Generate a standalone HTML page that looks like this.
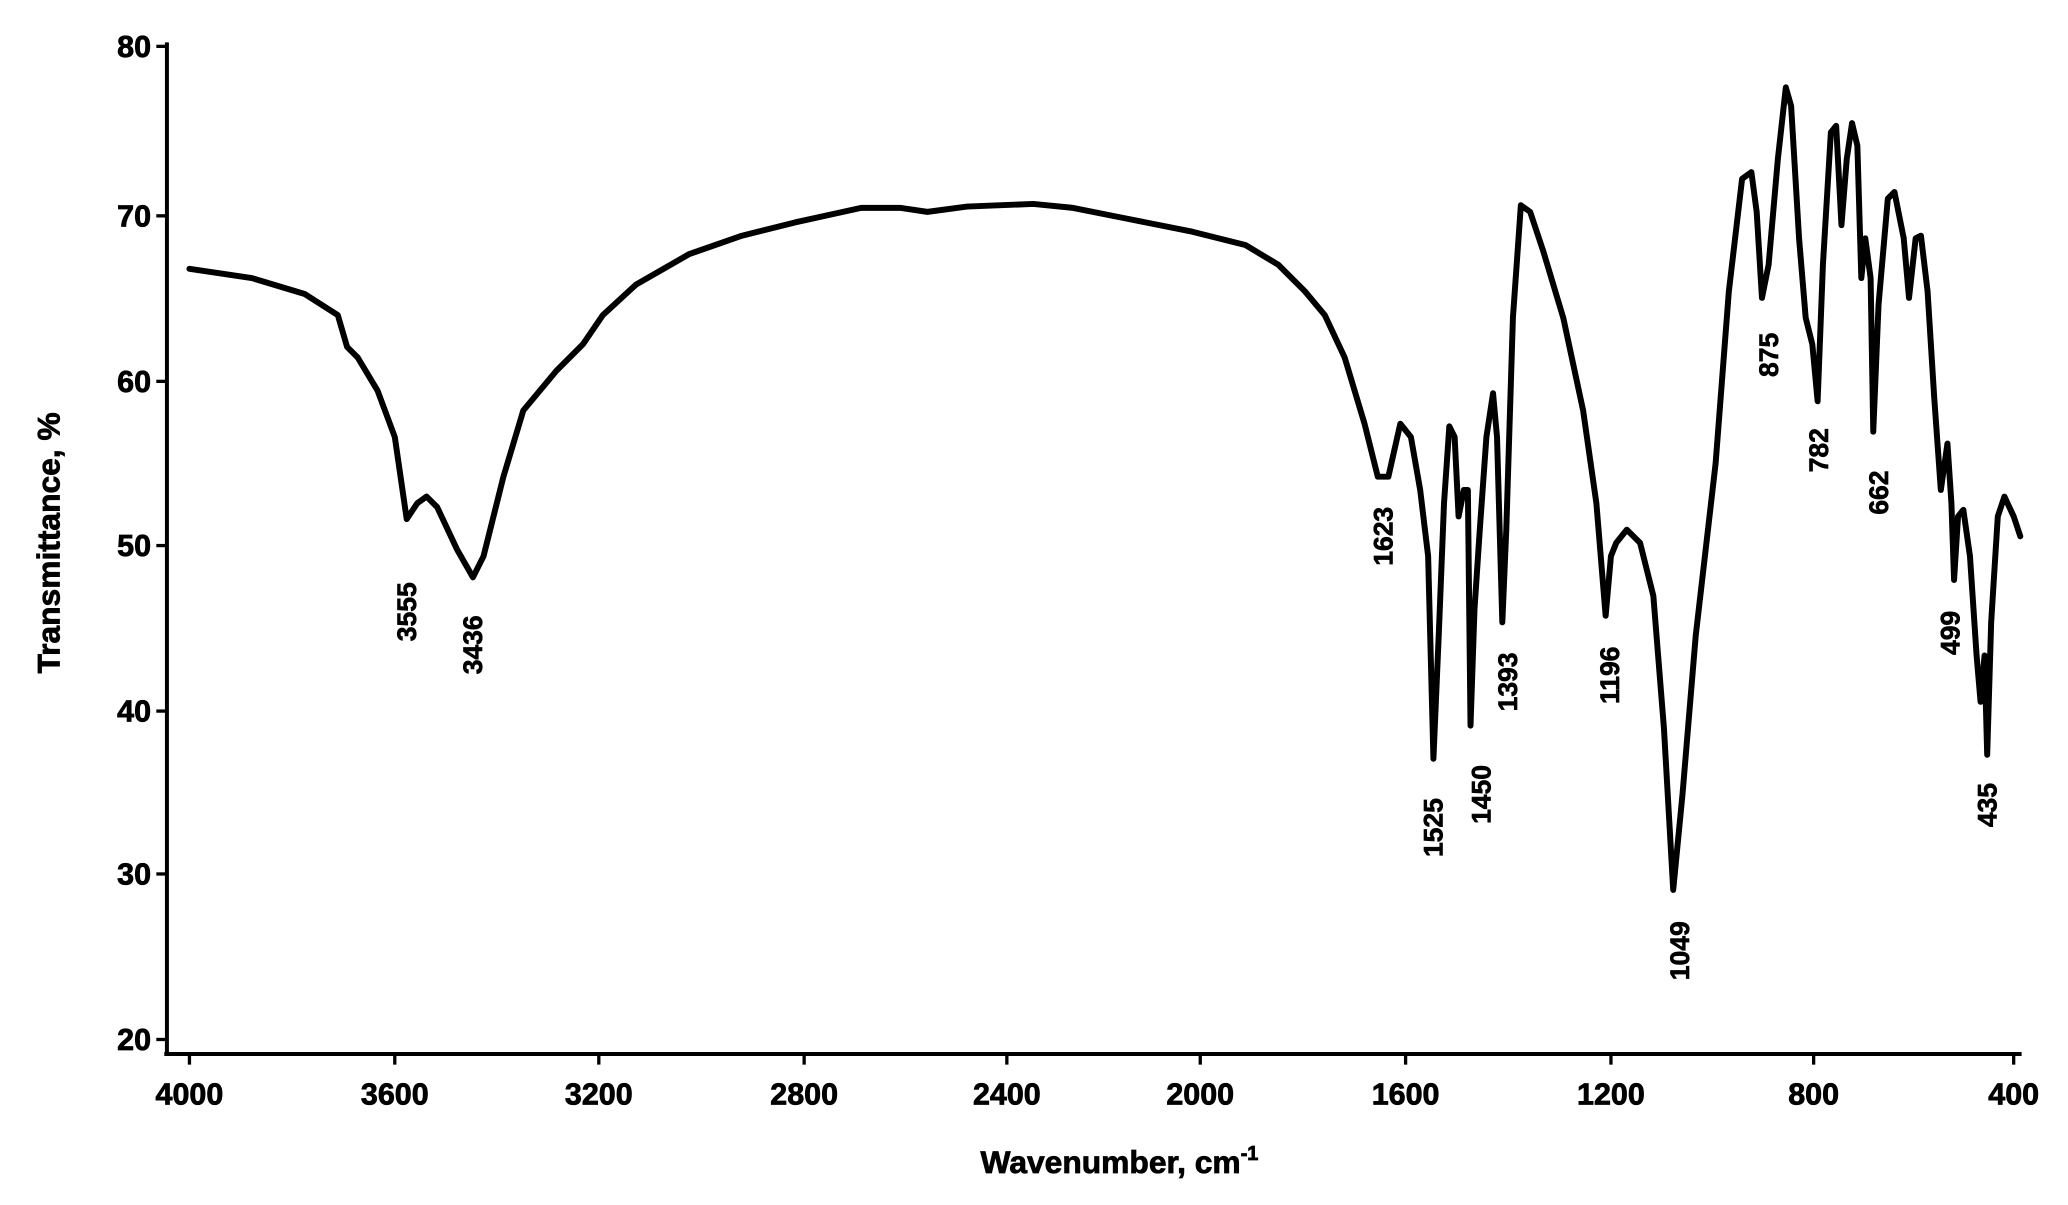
<!DOCTYPE html>
<html><head><style>html,body{margin:0;padding:0;background:#fff}svg{display:block}</style></head>
<body>
<svg width="2068" height="1205" viewBox="0 0 1561 910" preserveAspectRatio="none" xmlns="http://www.w3.org/2000/svg" font-family="Liberation Sans, sans-serif" font-weight="bold">
<rect width="1561" height="910" fill="#fff"/>
<g stroke="#000" stroke-width="3" fill="none">
<line x1="126" y1="32" x2="126" y2="797"/>
<line x1="124" y1="796" x2="1526" y2="796"/>
<g stroke-width="2.5">
<line x1="118" y1="35" x2="126" y2="35"/><line x1="118" y1="163" x2="126" y2="163"/>
<line x1="118" y1="288" x2="126" y2="288"/><line x1="118" y1="412" x2="126" y2="412"/>
<line x1="118" y1="537" x2="126" y2="537"/><line x1="118" y1="660" x2="126" y2="660"/>
<line x1="118" y1="785" x2="126" y2="785"/>
<line x1="143" y1="796" x2="143" y2="804"/><line x1="298" y1="796" x2="298" y2="804"/>
<line x1="452" y1="796" x2="452" y2="804"/><line x1="607" y1="796" x2="607" y2="804"/>
<line x1="760" y1="796" x2="760" y2="804"/><line x1="906" y1="796" x2="906" y2="804"/>
<line x1="1061" y1="796" x2="1061" y2="804"/><line x1="1216" y1="796" x2="1216" y2="804"/>
<line x1="1369" y1="796" x2="1369" y2="804"/><line x1="1520" y1="796" x2="1520" y2="804"/>
</g>
<polyline stroke-width="4.5" stroke-linejoin="round" stroke-linecap="round" points="143,203 190,210 230,222 255,238 262,262 270,270 285,295 298,330 307,392 315,380 322,375 330,383 345,415 357,436 365,420 380,360 395,310 420,280 440,260 455,238 480,215 520,192 560,178 600,168 650,157 680,157 700,160 730,156 780,154 810,157 850,165 900,175 940,185 965,200 985,220 1000,238 1015,270 1030,320 1040,360 1048,360 1057,320 1065,330 1072,370 1078,420 1082,573 1086,480 1090,380 1094,322 1098,330 1101,390 1105,370 1108,370 1110,548 1113,460 1117,400 1122,330 1127,297 1130,330 1134,470 1137,400 1142,240 1148,155 1155,160 1165,190 1180,240 1195,310 1205,380 1212,465 1216,420 1220,410 1228,400 1238,410 1248,450 1256,550 1263,672 1270,600 1280,480 1295,350 1305,220 1315,135 1322,130 1326,160 1330,225 1335,200 1342,120 1348,66 1352,80 1358,180 1363,240 1368,260 1372,303 1376,200 1382,100 1386,95 1390,170 1394,120 1398,93 1402,110 1405,210 1408,180 1412,210 1414,326 1418,230 1425,150 1430,145 1437,180 1441,225 1446,180 1450,178 1455,220 1460,300 1465,370 1470,335 1473,380 1475,438 1478,390 1482,385 1487,420 1492,495 1495,530 1498,495 1500,570 1503,470 1508,390 1513,375 1520,390 1525,405"/>
</g>
<g font-size="23" text-anchor="end" fill="#000" stroke="#000" stroke-width="0.6">
<text x="114" y="43">80</text><text x="114" y="171">70</text><text x="114" y="296">60</text>
<text x="114" y="420">50</text><text x="114" y="545">40</text><text x="114" y="668">30</text><text x="114" y="793">20</text>
</g>
<g font-size="23" text-anchor="middle" fill="#000" stroke="#000" stroke-width="0.6">
<text x="143" y="834">4000</text><text x="298" y="834">3600</text><text x="452" y="834">3200</text>
<text x="607" y="834">2800</text><text x="760" y="834">2400</text><text x="906" y="834">2000</text>
<text x="1061" y="834">1600</text><text x="1216" y="834">1200</text><text x="1369" y="834">800</text>
<text x="1520" y="834">400</text>
<text x="845" y="886" font-size="24">Wavenumber, cm<tspan font-size="15" dy="-10">-1</tspan></text>
<text transform="translate(45,410) rotate(-90)" font-size="24">Transmittance, %</text>
</g>
<g font-size="20" text-anchor="middle" fill="#000" stroke="#000" stroke-width="0.5">
<text transform="translate(314,462) rotate(-90)">3555</text>
<text transform="translate(364,487) rotate(-90)">3436</text>
<text transform="translate(1051,405) rotate(-90)">1623</text>
<text transform="translate(1089,625) rotate(-90)">1525</text>
<text transform="translate(1125,600) rotate(-90)">1450</text>
<text transform="translate(1145,515) rotate(-90)">1393</text>
<text transform="translate(1222,510) rotate(-90)">1196</text>
<text transform="translate(1275,718) rotate(-90)">1049</text>
<text transform="translate(1342,268) rotate(-90)">875</text>
<text transform="translate(1380,340) rotate(-90)">782</text>
<text transform="translate(1425,372) rotate(-90)">662</text>
<text transform="translate(1479,478) rotate(-90)">499</text>
<text transform="translate(1507,608) rotate(-90)">435</text>
</g>
</svg>
</body></html>
